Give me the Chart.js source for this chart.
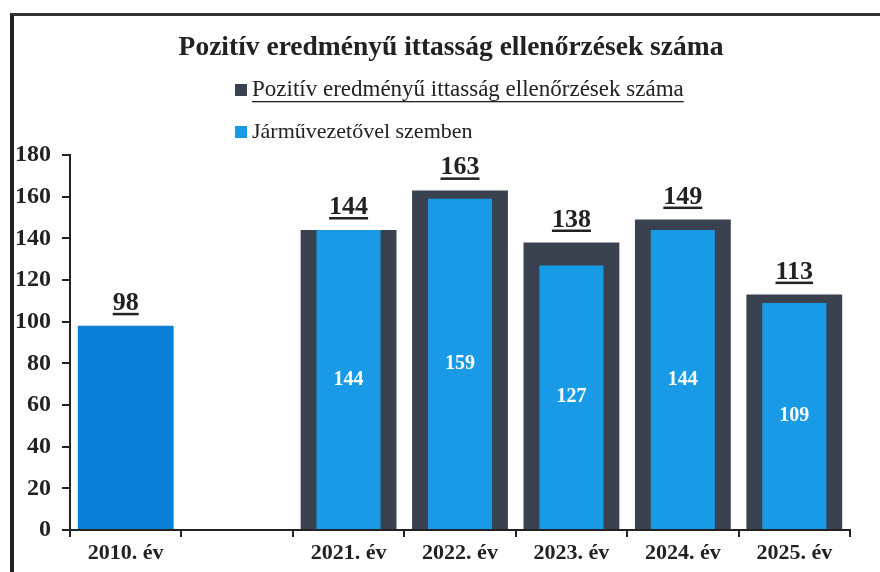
<!DOCTYPE html>
<html>
<head>
<meta charset="utf-8">
<script src="https://cdn.jsdelivr.net/npm/chart.js@4.4.1/dist/chart.umd.min.js"></script>
<style>
  body { margin: 0; background: #fff; }
  #frame { position: absolute; left: 10px; top: 13px; width: 870px; height: 559px;
           border-left: 4px solid #222; border-top: 3px solid #333; box-sizing: border-box; }
  #wrap { position: absolute; left: 0; top: 0; width: 880px; height: 572px; }
</style>
</head>
<body>
<div id="frame"></div>
<div id="wrap"><canvas id="Chart" width="880" height="572"></canvas></div>
<script>
// data
const categories = ["2010. év", "", "2021. év", "2022. év", "2023. év", "2024. év", "2025. év"];
const totalValues = [98, null, 144, 163, 138, 149, 113];
const driverValues = [null, null, 144, 159, 127, 144, 109];
const yTicks = [0, 20, 40, 60, 80, 100, 120, 140, 160, 180];

const titleText = "Pozitív eredményű ittasság ellenőrzések száma";
const totalLabel = "Pozitív eredményű ittasság ellenőrzések száma";
const driverLabel = "Járművezetővel szemben";

const dark = "#3a4250";
const blue = "#189ae6";
const blue2010 = "#0a7fd6";
const ink = "#222";
const serif = "'Liberation Serif', 'Times New Roman', serif";

// title + legend stacked in two rows, first label underlined
const headPlugin = {
  id: "head",
  afterDraw(chart) {
    const ctx = chart.ctx;
    ctx.save();
    ctx.textBaseline = "middle";
    ctx.textAlign = "center";
    ctx.fillStyle = ink;
    ctx.font = "bold 27.5px " + serif;
    ctx.fillText(titleText, 451, 48);

    ctx.textAlign = "left";
    const rows = [
      { color: dark, text: totalLabel, y: 90, underline: true, size: 23 },
      { color: blue, text: driverLabel, y: 132, underline: false, size: 22 }
    ];
    rows.forEach((r) => {
      ctx.font = r.size + "px " + serif;
      ctx.fillStyle = r.color;
      ctx.fillRect(235, r.y - 6, 12, 12);
      ctx.fillStyle = ink;
      ctx.fillText(r.text, 252, r.y);
      if (r.underline) {
        const w = ctx.measureText(r.text).width;
        ctx.fillRect(252, r.y + 11, w, 1.3);
      }
    });
    ctx.restore();
  }
};

// value labels
const labelPlugin = {
  id: "valueLabels",
  afterDatasetsDraw(chart) {
    const ctx = chart.ctx;
    ctx.save();
    ctx.textAlign = "center";
    const tot = chart.getDatasetMeta(0);
    ctx.font = "bold 26px " + serif;
    ctx.fillStyle = ink;
    ctx.textBaseline = "alphabetic";
    tot.data.forEach((bar, i) => {
      const v = totalValues[i];
      if (v == null) return;
      const txt = String(v);
      const y = bar.y - 16;
      ctx.fillText(txt, bar.x, y);
      const w = ctx.measureText(txt).width;
      ctx.fillRect(bar.x - w / 2, y + 3, w, 2.5);
    });
    const inner = chart.getDatasetMeta(1);
    ctx.font = "bold 20px " + serif;
    ctx.fillStyle = "#fff";
    ctx.textBaseline = "middle";
    inner.data.forEach((bar, i) => {
      const v = driverValues[i];
      if (v == null) return;
      ctx.fillText(String(v), bar.x, (bar.y + bar.base) / 2);
    });
    ctx.restore();
  }
};

const ctx = document.getElementById("Chart").getContext("2d");
const myChart = new Chart(ctx, {
  type: "bar",
  data: {
    labels: categories,
    datasets: [
      {
        label: totalLabel,
        data: totalValues,
        backgroundColor: (c) => (c.dataIndex === 0 ? blue2010 : dark),
        categoryPercentage: 1,
        barPercentage: 0.86,
        grouped: false,
        order: 2
      },
      {
        label: driverLabel,
        data: driverValues,
        backgroundColor: blue,
        categoryPercentage: 1,
        barPercentage: 0.575,
        grouped: false,
        order: 1
      }
    ]
  },
  options: {
    responsive: false,
    animation: false,
    layout: { padding: { left: 0, right: 30, top: 155, bottom: 0 } },
    plugins: {
      legend: { display: false },
      tooltip: { enabled: false },
      title: { display: false }
    },
    scales: {
      x: {
        grid: { drawOnChartArea: false, tickLength: 7, color: ink, lineWidth: 2 },
        border: { color: ink, width: 2 },
        ticks: { color: ink, font: { family: serif, size: 22, weight: "bold" }, padding: 3, maxRotation: 0 },
        afterFit: (s) => { s.height = 42; }
      },
      y: {
        min: 0,
        max: 180,
        afterBuildTicks: (s) => { s.ticks = yTicks.map((v) => ({ value: v })); },
        grid: { drawOnChartArea: false, tickLength: 8, color: ink, lineWidth: 2 },
        border: { color: ink, width: 2 },
        ticks: { color: ink, font: { family: serif, size: 24, weight: "bold" }, padding: 11 },
        afterFit: (s) => { s.width = 70; }
      }
    }
  },
  plugins: [headPlugin, labelPlugin]
});
</script>
</body>
</html>
